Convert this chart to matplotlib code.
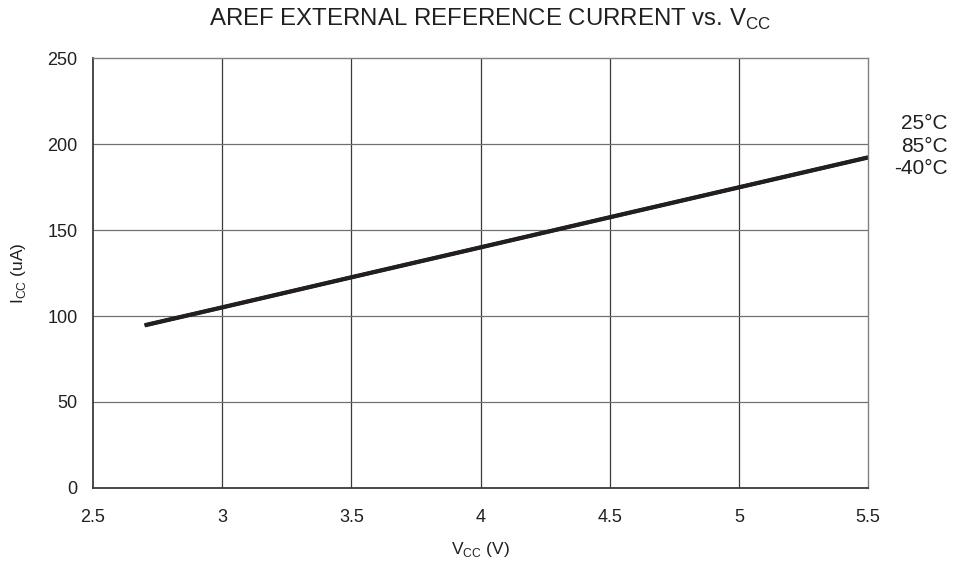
import matplotlib
matplotlib.use("Agg")
import matplotlib.pyplot as plt

plt.rcParams['font.family'] = ['Liberation Sans', 'DejaVu Sans']

vcc = [2.7, 3.0, 3.5, 4.0, 4.5, 5.0, 5.5]
i_25 = [94.8, 105.2, 122.7, 140.1, 157.6, 175.0, 192.4]
i_85 = [94.6, 105.0, 122.5, 139.9, 157.4, 174.8, 192.2]
i_m40 = [94.4, 104.8, 122.3, 139.7, 157.2, 174.6, 192.0]
series_labels = ["25°C", "85°C", "-40°C"]
xticks = [2.5, 3, 3.5, 4, 4.5, 5, 5.5]
yticks = [0, 50, 100, 150, 200, 250]

fig = plt.figure(figsize=(9.66, 5.65), dpi=100)
ax = fig.add_axes([0.0963, 0.1363, 0.8023, 0.761])

for ys in (i_25, i_85, i_m40):
    ax.plot(vcc, ys, color="#231f20", lw=2.6, solid_capstyle="butt", clip_on=False)

ax.set_xlim(2.5, 5.5)
ax.set_ylim(0, 250)
ax.set_xticks(xticks)
ax.set_xticklabels([("%g" % t) for t in xticks])
ax.set_yticks(yticks)
ax.tick_params(length=0, labelsize=13, colors="#231f20")
ax.tick_params(axis="x", pad=15)
ax.tick_params(axis="y", pad=11)

for x in xticks[1:-1]:
    ax.axvline(x, color="#3a3a3a", lw=0.9, zorder=0)
for y in yticks[1:-1]:
    ax.axhline(y, color="#707070", lw=0.9, zorder=0)

for s in ("left", "bottom"):
    ax.spines[s].set_color("#3a3a3a")
    ax.spines[s].set_linewidth(1.3)
for s in ("top", "right"):
    ax.spines[s].set_color("#808080")
    ax.spines[s].set_linewidth(1.0)

ax.set_xlabel("V$_{\\mathregular{CC}}$ (V)", fontsize=12.5, color="#231f20", labelpad=10)
ax.set_ylabel("I$_{\\mathregular{CC}}$ (uA)", fontsize=12.5, color="#231f20", labelpad=14)
fig.text(0.507, 0.965, "AREF EXTERNAL REFERENCE CURRENT vs. V$_{\\mathregular{CC}}$",
         ha="center", va="center", fontsize=17.3, color="#231f20")

label_y = [124, 146, 168]
for lab, yp in zip(series_labels, label_y):
    fig.text(948 / 966, 1 - yp / 565, lab, ha="right", va="center",
             fontsize=15, color="#231f20")

fig.savefig("out.png", dpi=100)
